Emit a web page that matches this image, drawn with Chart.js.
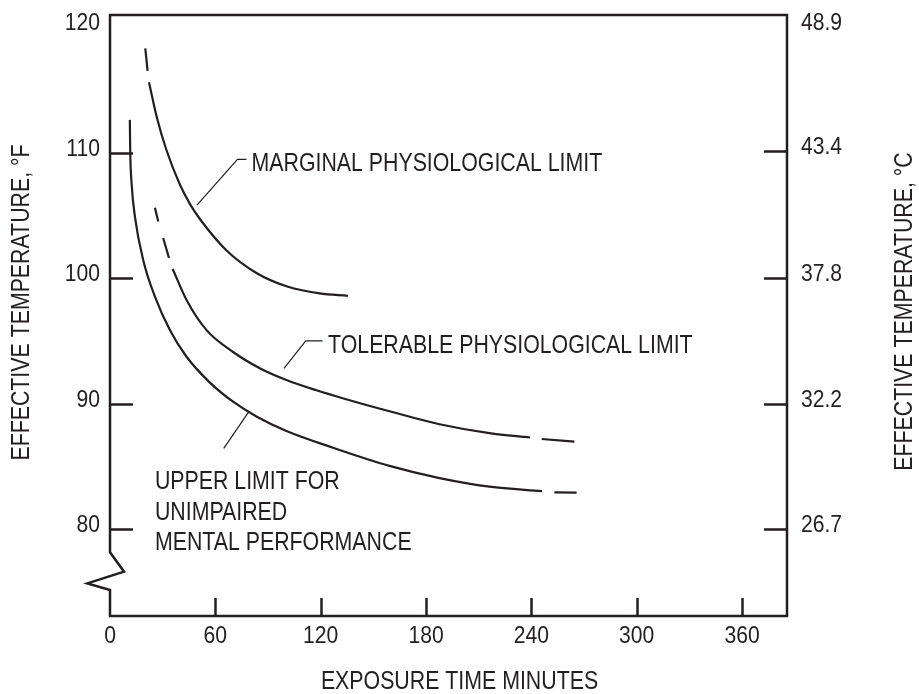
<!DOCTYPE html>
<html>
<head>
<meta charset="utf-8">
<script src="https://cdn.jsdelivr.net/npm/chart.js@4/dist/chart.umd.min.js"></script>
<style>
  html, body { margin: 0; padding: 0; background: #ffffff; }
  #wrap { width: 919px; height: 694px; }
</style>
</head>
<body>
<div id="wrap"><canvas id="c" width="919" height="694"></canvas></div>
<script>
// Exposure time (minutes) against effective temperature (°F, with °C on the right)
const minuteTicks = [0, 60, 120, 180, 240, 300, 360];
const fahrenheitTicks = [80, 90, 100, 110, 120];
const celsiusTicks = [26.7, 32.2, 37.8, 43.4, 48.9];

// Marginal physiological limit: [minutes, °F]
const marginalDashed = [[20.1, 118.3], [21.4, 116.5]];
const marginalSolid = [[22.2, 115.6], [26.6, 112.85], [32.0, 110.26], [39.8, 107.45], [45.5, 105.91],
  [51.2, 104.71], [66.4, 102.2], [83.4, 100.41], [100.5, 99.35], [119.4, 98.78], [135.5, 98.59]];

// Tolerable physiological limit
const tolerableDashA = [[25.6, 105.6], [27.5, 104.5]];
const tolerableDashB = [[30.3, 103.2], [33.6, 101.6]];
const tolerableSolid = [[35.7, 100.73], [43.6, 98.26], [55.0, 95.86], [70.1, 94.12], [85.3, 92.83],
  [100.5, 91.89], [117.6, 91.07], [133.0, 90.42], [159.2, 89.4], [187.7, 88.37], [216.1, 87.66], [239.3, 87.31]];
const tolerableTail = [[245.9, 87.19], [264.5, 86.98]];

// Upper limit for unimpaired mental performance
const mentalSolid = [[11.3, 112.6], [11.5, 110.2], [12.3, 107.55], [14.2, 104.9], [18.9, 101.45],
  [25.6, 98.52], [34.1, 95.87], [43.6, 93.74], [56.9, 91.68], [70.1, 90.16], [83.4, 88.99],
  [100.5, 87.83], [127.0, 86.5], [159.2, 85.05], [187.7, 84.08], [216.1, 83.4], [246.1, 83.04]];
const mentalTail = [[253.1, 82.95], [265.8, 82.92]];

const xTitle = 'EXPOSURE TIME MINUTES';
const yTitle = 'EFFECTIVE TEMPERATURE, °F';
const y2Title = 'EFFECTIVE TEMPERATURE, °C';

const ink = '#231f20';
const family = '"Liberation Sans", Arial, Helvetica, sans-serif';

const xMin = 0, xMax = 385.6;
const fMin = 73.1, fMax = 120.95;
const toC = f => (f - 32) * 5 / 9;

function piece(points) {
  return {
    data: points.map(([m, f]) => ({ x: m, y: f })),
    showLine: true,
    borderColor: ink,
    borderWidth: 2.2,
    pointRadius: 0,
    cubicInterpolationMode: 'monotone',
    fill: false,
    yAxisID: 'y'
  };
}

// Callouts, positioned in data units (minutes, °F)
const callouts = [
  { leader: [[49.5, 105.82], [72.6, 109.46], [77.7, 109.46]],
    at: [80.6, 108.53], lines: ['MARGINAL PHYSIOLOGICAL LIMIT'] },
  { leader: [[99.1, 92.82], [111.5, 95.0], [121.0, 95.0]],
    at: [124.2, 94.04], lines: ['TOLERABLE PHYSIOLOGICAL LIMIT'] },
  { leader: [[64.8, 86.45], [79.1, 89.37]],
    at: [25.6, 83.21], lines: ['UPPER LIMIT FOR', 'UNIMPAIRED', 'MENTAL PERFORMANCE'] }
];

// Axis break drawn into the left edge, in data units
const axisBreak = [[0, 75.17], [-12.9, 75.7], [8.0, 76.63], [0, 78.17]];

// Narrow lettering: a sans face squeezed horizontally
function narrowText(ctx, text, x, y, size, squeeze, align, angle) {
  ctx.save();
  ctx.translate(x, y);
  if (angle) ctx.rotate(angle);
  ctx.scale(squeeze, 1);
  ctx.font = size + 'px ' + family;
  ctx.textAlign = align;
  ctx.fillText(text, 0, 0);
  ctx.restore();
}

const framePlugin = {
  id: 'frame',
  afterDraw(chart) {
    const { ctx, chartArea: a, scales } = chart;
    const x = scales.x, y = scales.y, y2 = scales.y2;
    ctx.save();
    ctx.strokeStyle = ink;
    ctx.fillStyle = ink;
    ctx.lineCap = 'butt';
    ctx.lineJoin = 'miter';

    // frame with the broken left edge
    ctx.lineWidth = 2.5;
    ctx.beginPath();
    ctx.moveTo(a.left, a.top);
    ctx.lineTo(a.right, a.top);
    ctx.lineTo(a.right, a.bottom);
    ctx.lineTo(a.left, a.bottom);
    axisBreak.forEach(([m, f]) => ctx.lineTo(x.getPixelForValue(m), y.getPixelForValue(f)));
    ctx.closePath();
    ctx.stroke();

    // inward tick marks
    ctx.beginPath();
    fahrenheitTicks.forEach(f => {
      if (f >= 120) return;
      const py = Math.round(y.getPixelForValue(f)) + 0.5;
      ctx.moveTo(a.left, py);
      ctx.lineTo(a.left + 23, py);
    });
    celsiusTicks.forEach(c => {
      if (c >= 48) return;
      const py = Math.round(y2.getPixelForValue(c)) + 0.5;
      ctx.moveTo(a.right - 23, py);
      ctx.lineTo(a.right, py);
    });
    minuteTicks.forEach(m => {
      if (m <= 0) return;
      const px = Math.round(x.getPixelForValue(m)) + 0.5;
      ctx.moveTo(px, a.bottom);
      ctx.lineTo(px, a.bottom - 18);
    });
    ctx.stroke();

    // tick labels
    ctx.textBaseline = 'middle';
    fahrenheitTicks.forEach(f =>
      narrowText(ctx, String(f), a.left - 10, y.getPixelForValue(f) - 3.5, 24, 0.88, 'right'));
    celsiusTicks.forEach(c =>
      narrowText(ctx, c.toFixed(1), a.right + 14, y2.getPixelForValue(c) - 3.5, 24, 0.88, 'left'));
    minuteTicks.forEach(m =>
      narrowText(ctx, String(m), x.getPixelForValue(m), a.bottom + 20, 24, 0.88, 'center'));

    // axis titles
    const midY = (a.top + a.bottom) / 2;
    narrowText(ctx, xTitle, (a.left + a.right) / 2 + 11, a.bottom + 66, 26, 0.82, 'center');
    narrowText(ctx, yTitle, 22, midY - 13, 26, 0.82, 'center', -Math.PI / 2);
    narrowText(ctx, y2Title, 905, midY - 4, 26, 0.82, 'center', -Math.PI / 2);

    // callouts
    ctx.lineWidth = 1.2;
    ctx.textBaseline = 'alphabetic';
    callouts.forEach(c => {
      ctx.beginPath();
      c.leader.forEach(([m, f], i) => {
        const px = x.getPixelForValue(m), py = y.getPixelForValue(f);
        if (i === 0) ctx.moveTo(px, py); else ctx.lineTo(px, py);
      });
      ctx.stroke();
      const tx = x.getPixelForValue(c.at[0]);
      const ty = y.getPixelForValue(c.at[1]);
      c.lines.forEach((t, i) => narrowText(ctx, t, tx, ty + i * 30.5, 26, 0.82, 'left'));
    });
    ctx.restore();
  }
};

const hiddenTicks = { display: false };

new Chart(document.getElementById('c'), {
  type: 'scatter',
  data: {
    datasets: [
      piece(marginalDashed), piece(marginalSolid),
      piece(tolerableDashA), piece(tolerableDashB), piece(tolerableSolid), piece(tolerableTail),
      piece(mentalSolid), piece(mentalTail)
    ]
  },
  options: {
    responsive: false,
    animation: false,
    devicePixelRatio: 1,
    layout: { padding: { top: 15, left: 0, right: 0, bottom: 0 } },
    plugins: { legend: { display: false }, tooltip: { enabled: false } },
    scales: {
      x: {
        type: 'linear', position: 'bottom', min: xMin, max: xMax,
        afterBuildTicks: s => { s.ticks = minuteTicks.map(v => ({ value: v })); },
        afterFit: s => { s.height = 78; s.paddingLeft = 0; s.paddingRight = 0; },
        grid: { display: false, drawTicks: false },
        border: { display: false },
        ticks: hiddenTicks,
        title: { display: false }
      },
      y: {
        type: 'linear', position: 'left', min: fMin, max: fMax,
        afterBuildTicks: s => { s.ticks = fahrenheitTicks.map(v => ({ value: v })); },
        afterFit: s => { s.width = 110; s.paddingTop = 0; s.paddingBottom = 0; },
        grid: { display: false, drawTicks: false },
        border: { display: false },
        ticks: hiddenTicks,
        title: { display: false }
      },
      y2: {
        type: 'linear', position: 'right', min: toC(fMin), max: toC(fMax),
        afterBuildTicks: s => { s.ticks = celsiusTicks.map(v => ({ value: v })); },
        afterFit: s => { s.width = 132; s.paddingTop = 0; s.paddingBottom = 0; },
        grid: { display: false, drawTicks: false },
        border: { display: false },
        ticks: hiddenTicks,
        title: { display: false }
      }
    }
  },
  plugins: [framePlugin]
});
</script>
</body>
</html>
